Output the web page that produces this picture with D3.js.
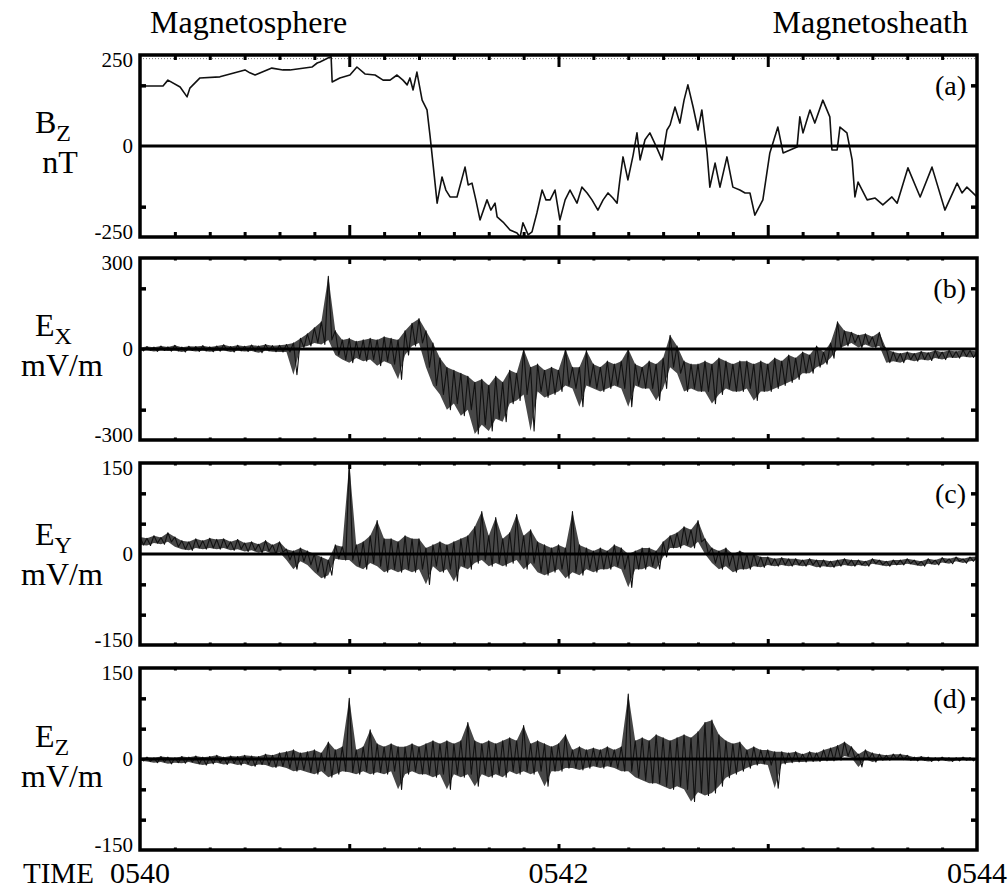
<!DOCTYPE html>
<html><head><meta charset="utf-8">
<script src="https://cdn.jsdelivr.net/npm/d3@7"></script>
<style>
body{margin:0;background:#fff}
svg{display:block}
svg text{font-family:"Liberation Serif","DejaVu Serif","Noto Serif","Times New Roman",serif !important}
</style>
</head><body>
<svg id="chart" width="1008" height="892"></svg>
<script>
// ---- DATA (time in seconds after 05:40:00) ----
const bzTime=[0,6.6,8,11.5,13.5,14.3,17.2,22.9,30.1,31.5,33,37.8,41,43,49.3,50.8,51.6,53.9,54.8,55.1,57.3,60.2,62.2,64.5,67.4,69.7,71.7,73.7,75.4,76.6,77.4,78.3,79.4,80.9,82.3,83.2,84,85.2,86.6,87.7,88.9,90.9,93.2,94.1,95.2,96.3,97.5,99.5,100.6,101.8,102.4,104.1,106.1,108.1,109,109.8,111.3,112.4,113.8,115.3,116.4,117.6,119,120.4,121.9,123.3,125.3,126.7,128.2,129.6,131.3,132.8,134.2,135.6,136.8,137.6,138.5,139.9,141.4,142.5,143.4,144.8,146.2,148.2,149.7,151.1,152,153.4,154.8,156,157.1,158.6,160,161.1,162.6,163.4,164.9,166.3,168.3,170,172,173.5,174.9,176.3,178.6,180.6,182.9,184.4,186.4,188.4,189.2,190.1,192.1,193.5,195.8,197.8,198.4,199.9,200.7,202.7,204.2,205,205.9,208.5,210.8,213,215.6,217.1,220.2,223.7,227.1,230.8,234.3,235.7,237.1,240];
const bzValues=[165,165,181,162,135,159,187,190,209,201,195,214,209,209,217,228,231,242,245,176,187,195,217,198,195,181,181,195,181,168,187,154,203,126,99,25,-47,-157,-85,-121,-140,-140,-58,-107,-102,-148,-203,-148,-176,-157,-195,-209,-231,-239,-250,-211,-244,-236,-184,-121,-148,-148,-121,-203,-148,-121,-157,-113,-129,-148,-176,-148,-129,-143,-157,-93,-30,-93,-25,36,-38,17,36,-5,-38,44,58,107,63,126,168,107,44,99,-19,-113,-47,-113,-30,-113,-121,-129,-129,-190,-148,-19,52,-19,-11,-3,80,36,99,63,126,80,-11,-11,52,36,-38,-140,-99,-148,-143,-162,-140,-157,-60,-140,-58,-176,-102,-129,-113,-140];

// E-field: upper / lower extent of the noisy trace, one reading every 2 s (0..240 s)
const eSampleStep=2;
const exUpper=[5,8,6,10,7,12,6,9,8,11,7,10,14,8,12,9,13,10,15,11,12,
15,20,35,50,70,90,240,60,30,35,25,30,35,30,40,35,30,60,85,100,
60,20,-30,-60,-70,-80,-90,-110,-100,-120,-90,-110,-70,-80,0,-60,-50,-70,-60,-70,
0,-60,-60,-5,-50,-60,-40,-50,-40,0,-50,-60,-40,-50,-30,45,10,-40,-50,-50,
-40,-50,-30,-40,-50,-40,-40,-50,-40,-50,-30,-40,-20,-30,-10,-20,10,-10,20,90,
60,55,45,50,40,55,0,-10,-15,-10,-15,-8,-12,-5,-10,-5,-8,-3,-5,-8];
const exLower=[-6,-4,-8,-5,-7,-6,-10,-5,-8,-6,-9,-7,-5,-10,-6,-8,-7,-12,-6,-9,-10,
-10,-85,5,10,20,15,30,-20,-35,-45,-30,-40,-35,-55,-40,-50,-100,-20,10,20,
-60,-120,-150,-200,-180,-220,-200,-280,-250,-270,-230,-240,-180,-170,-150,-270,-140,-160,-150,-140,
-120,-130,-190,-120,-130,-140,-130,-120,-130,-190,-120,-130,-130,-170,-130,-60,-80,-140,-130,-140,
-140,-180,-150,-130,-140,-140,-130,-170,-140,-140,-130,-120,-110,-100,-80,-80,-60,-50,-30,0,
10,20,5,15,5,10,-45,-40,-45,-35,-40,-35,-38,-30,-35,-28,-30,-25,-28,-25];
const eyUpper=[28,26,30,27,35,28,22,20,25,22,26,24,25,20,24,18,20,16,22,15,20,
8,5,10,5,0,-5,-10,15,12,150,15,20,30,55,25,25,20,30,25,25,
10,15,20,15,20,25,30,45,70,30,60,25,35,65,30,40,20,15,10,15,
10,70,15,10,5,10,5,15,10,0,5,10,10,5,20,30,35,45,40,55,
25,10,5,10,0,5,0,0,-5,-5,-8,-6,-8,-8,-10,-8,-10,-10,-12,-10,
-8,-10,-10,-12,-8,-10,-12,-10,-10,-8,-10,-12,-8,-10,-6,-8,-5,-8,-5,-4];
const eyLower=[15,14,18,16,20,12,8,6,10,8,10,8,10,6,8,4,6,2,5,0,3,
-10,-25,-12,-18,-30,-40,-35,-8,-10,-10,-20,-25,-15,-20,-30,-25,-30,-25,-30,-25,
-50,-20,-30,-25,-45,-20,-25,-15,-10,-20,-15,-20,-15,-10,-25,-15,-30,-35,-30,-25,
-40,-30,-35,-25,-30,-25,-25,-20,-25,-55,-25,-25,-20,-25,-5,10,10,15,10,20,
0,-15,-25,-20,-30,-25,-25,-20,-22,-18,-20,-18,-20,-18,-20,-18,-22,-20,-22,-20,
-18,-20,-18,-20,-16,-18,-20,-18,-18,-16,-18,-20,-16,-18,-14,-16,-12,-15,-12,-10];
const ezUpper=[2,3,2,4,3,2,4,3,5,3,4,6,3,5,4,6,5,4,8,6,10,
12,15,10,12,15,10,28,15,20,100,15,20,48,25,20,25,20,20,25,20,
25,30,25,30,25,30,60,30,25,30,25,30,35,30,55,25,30,25,20,25,
40,15,20,15,18,15,20,15,20,107,30,35,30,40,35,30,35,40,35,45,
60,64,40,30,25,28,15,20,15,15,12,12,10,12,8,12,10,15,18,22,
28,20,8,15,10,8,6,8,8,6,3,4,3,2,3,2,2,3,2,1];
const ezLower=[-3,-4,-6,-5,-8,-6,-7,-5,-8,-10,-8,-6,-9,-7,-10,-8,-12,-9,-10,-14,-12,
-15,-20,-18,-22,-25,-20,-30,-25,-20,-22,-25,-20,-25,-22,-25,-20,-50,-25,-20,-25,
-25,-30,-25,-50,-25,-30,-25,-45,-25,-30,-25,-30,-20,-25,-20,-25,-20,-45,-20,-20,
-15,-15,-18,-15,-12,-15,-12,-15,-20,-20,-30,-35,-40,-40,-45,-50,-45,-50,-70,-55,
-60,-56,-45,-31,-25,-20,-15,-10,-8,-10,-48,-8,-6,-5,-5,-4,-4,-3,-3,-2,
5,2,-13,0,-5,-2,-2,0,-1,-2,-3,-2,-4,-3,-2,-4,-3,-2,-3,-1];

const timeTickLabels=["0540","0542","0544"];
const timeTickValues=[0,120,240];
const panelLetters=["(a)","(b)","(c)","(d)"];
const bzTickLabels=["250","0","-250"];
const exTickLabels=["300","0","-300"];
const eyTickLabels=["150","0","-150"];
const ezTickLabels=["150","0","-150"];

function hatch(up,lo){
  const pts=[];
  up.forEach((u,i)=>{
    const t=i*eSampleStep;
    pts.push([t,u]);
    if(i<up.length-1) pts.push([t+eSampleStep/2,lo[i]]);
  });
  return pts;
}
function band(up,lo){ return up.map((u,i)=>({t:i*eSampleStep,u:u,l:lo[i]})); }

// ---- LAYOUT ----
const svg=d3.select("#chart");
const L=140,R=977,H=182;
const x=d3.scaleLinear().domain([0,240]).range([L,R]);

const panels=[
 {top:55, dom:[-250,250], ticks:[-500/3,500/3], labels:bzTickLabels, name:"B", sub:"Z", unit:"nT",
  data:bzTime.map((t,i)=>[t,bzValues[i]]), minor:5, major:12, lw:1.6, nameDy:-13, unitDy:27, dotted:true},
 {top:258, dom:[-300,300], ticks:[-200,200], labels:exTickLabels, name:"E", sub:"X", unit:"mV/m",
  data:hatch(exUpper,exLower), band:band(exUpper,exLower), minor:2.5, major:6, lw:1.1, nameDy:-13, unitDy:27},
 {top:463, dom:[-150,150], ticks:[-100,-50,50,100], labels:eyTickLabels, name:"E", sub:"Y", unit:"mV/m",
  data:hatch(eyUpper,eyLower), band:band(eyUpper,eyLower), minor:2.5, major:6, lw:1.1, nameDy:-9, unitDy:31},
 {top:668, dom:[-150,150], ticks:[-100,-50,50,100], labels:ezTickLabels, name:"E", sub:"Z", unit:"mV/m",
  data:hatch(ezUpper,ezLower), band:band(ezUpper,ezLower), minor:2.5, major:6, lw:1.1, nameDy:-12, unitDy:28}
];

const minorT=d3.range(0,241,10).filter(t=>t%60!==0);
const majorT=d3.range(60,240,60);

panels.forEach((p,pi)=>{
  const y=d3.scaleLinear().domain(p.dom).range([p.top+H,p.top]);
  const g=svg.append("g");
  const cid="clip"+pi;
  svg.append("clipPath").attr("id",cid).append("rect")
    .attr("x",L).attr("y",p.top).attr("width",R-L).attr("height",H);

  if(p.dotted){
    g.append("line").attr("x1",L).attr("x2",R).attr("y1",y(240)).attr("y2",y(240))
     .attr("stroke","#777").attr("stroke-width",1).attr("stroke-dasharray","1,2");
  }
  if(p.band){
    g.append("path").datum(p.band).attr("clip-path",`url(#${cid})`)
     .attr("fill","#000").attr("fill-opacity",0.72).attr("stroke","none")
     .attr("d",d3.area().x(d=>x(d.t)).y0(d=>y(d.l)).y1(d=>y(d.u)));
  }
  g.append("path").datum(p.data).attr("clip-path",`url(#${cid})`)
   .attr("fill","none").attr("stroke","#111").attr("stroke-width",p.lw).attr("stroke-linejoin","round")
   .attr("d",d3.line().x(d=>x(d[0])).y(d=>y(d[1])));
  g.append("line").attr("x1",L).attr("x2",R).attr("y1",y(0)).attr("y2",y(0))
   .attr("stroke","#000").attr("stroke-width",3.2);

  const addX=(axisFn,ty,vals,len)=>{
    const a=g.append("g").attr("transform",`translate(0,${ty})`)
      .call(axisFn(x).tickValues(vals).tickSize(-len).tickFormat(""));
    a.select(".domain").remove();
    a.selectAll("line").attr("stroke","#000").attr("stroke-width",3);
  };
  addX(d3.axisBottom,p.top+H,minorT,p.minor);
  addX(d3.axisBottom,p.top+H,majorT,p.major);
  addX(d3.axisTop,p.top,minorT,p.minor);
  addX(d3.axisTop,p.top,majorT,p.major);
  const addY=(axisFn,tx)=>{
    const a=g.append("g").attr("transform",`translate(${tx},0)`)
      .call(axisFn(y).tickValues(p.ticks).tickSize(-6).tickFormat(""));
    a.select(".domain").remove();
    a.selectAll("line").attr("stroke","#000").attr("stroke-width",3.5);
  };
  addY(d3.axisLeft,L);
  addY(d3.axisRight,R);

  g.append("rect").attr("x",L).attr("y",p.top).attr("width",R-L).attr("height",H)
   .attr("fill","none").attr("stroke","#000").attr("stroke-width",3.5);

  const offs=[12,7,2];
  [p.dom[1],0,p.dom[0]].forEach((v,i)=>{
    g.append("text").attr("x",L-7).attr("y",y(v)+offs[i]).attr("text-anchor","end")
     .attr("font-size",21).text(p.labels[i]);
  });

  g.append("text").attr("x",966).attr("y",p.top+40).attr("text-anchor","end")
   .attr("font-size",28).text(panelLetters[pi]);

  const yz=y(0);
  const nm=g.append("text").attr("x",35).attr("y",yz+p.nameDy).attr("font-size",32);
  nm.append("tspan").text(p.name);
  nm.append("tspan").attr("dy",8).attr("font-size",24).text(p.sub);
  g.append("text").attr("x",p.unit==="nT"?60:62).attr("y",yz+p.unitDy).attr("text-anchor","middle")
   .attr("font-size",32).text(p.unit);
});

svg.append("text").attr("x",150).attr("y",33).attr("font-size",32).text("Magnetosphere");
svg.append("text").attr("x",968).attr("y",33).attr("text-anchor","end").attr("font-size",32).text("Magnetosheath");

svg.append("text").attr("x",23).attr("y",883).attr("font-size",29).text("TIME");
timeTickValues.forEach((t,i)=>{
  svg.append("text").attr("x",x(t)).attr("y",883).attr("text-anchor","middle")
   .attr("font-size",30).text(timeTickLabels[i]);
});
</script>
</body></html>
